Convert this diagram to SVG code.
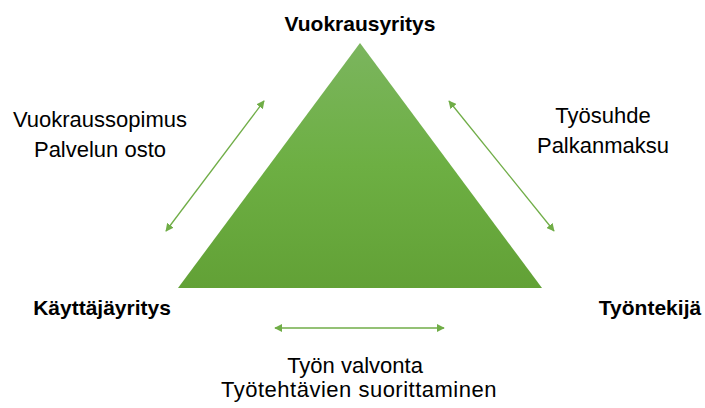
<svg xmlns="http://www.w3.org/2000/svg" width="705" height="408" viewBox="0 0 705 408">
<style>
.lbl{font-family:"Liberation Sans",Arial,sans-serif;font-size:22px;fill:#000;text-anchor:middle}
.b{font-weight:bold;font-size:21px}
.conn{stroke:#70AD47;stroke-width:1.3;fill:none;marker-start:url(#ah);marker-end:url(#ah)}
</style>
<defs>
<linearGradient id="g" x1="0" y1="0" x2="0" y2="1">
<stop offset="0" stop-color="#7bb55e"/>
<stop offset="0.5" stop-color="#6daf43"/>
<stop offset="1" stop-color="#62a136"/>
</linearGradient>
<marker id="ah" viewBox="0 0 10 10" refX="9" refY="5" markerWidth="8" markerHeight="8" markerUnits="userSpaceOnUse" orient="auto-start-reverse">
<path d="M0,0 L10,5 L0,10 z" fill="#70AD47"/>
</marker>
</defs>
<rect width="705" height="408" fill="#fff"/>
<g id="triangle">
<polygon points="360,43 178,288 542,288" fill="url(#g)"/>
</g>
<g id="vuokrausyritys"><text class="lbl b" x="360" y="31">Vuokrausyritys</text></g>
<g id="kayttajayritys"><text class="lbl b" x="102" y="315">Käyttäjäyritys</text></g>
<g id="tyontekija"><text class="lbl b" x="650" y="315">Työntekijä</text></g>
<g id="connectors">
<line class="conn" x1="166" y1="231" x2="264" y2="101"/>
<line class="conn" x1="449" y1="101" x2="554" y2="231"/>
<line class="conn" x1="275" y1="328" x2="444" y2="328"/>
</g>
<g id="labels">
<text class="lbl" x="100" y="127">Vuokraussopimus</text>
<text class="lbl" x="100" y="157">Palvelun osto</text>
<text class="lbl" x="603" y="123">Työsuhde</text>
<text class="lbl" x="603" y="153">Palkanmaksu</text>
<text class="lbl" x="355" y="373">Työn valvonta</text>
<text class="lbl" x="359" y="397" letter-spacing="0.5">Työtehtävien suorittaminen</text>
</g>
</svg>
